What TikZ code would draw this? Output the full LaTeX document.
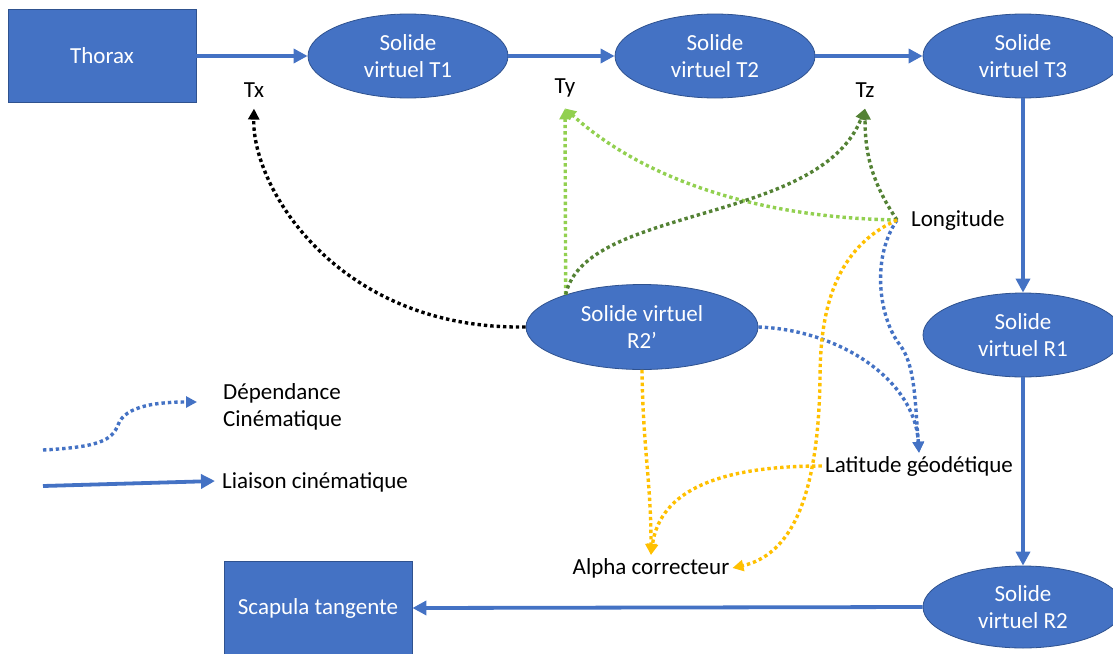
\documentclass[tikz,border=0pt]{standalone}
\usepackage{fontspec}
\setmainfont{Carlito}
\usepackage{tikz}
\usetikzlibrary{positioning, arrows.meta, shapes.geometric}
\definecolor{solidblue}{HTML}{4472C4}
\definecolor{solidborder}{HTML}{2F528F}
\definecolor{deplight}{HTML}{92D050}
\definecolor{depdark}{HTML}{548235}
\definecolor{depamber}{HTML}{FFC000}
\tikzset{
  every node/.style={font=\fontsize{23}{27}\selectfont},
  segment/.style={
    rectangle, draw=solidborder, fill=solidblue, text=white, line width=0.8pt,
    minimum width=188pt, minimum height=93pt, inner sep=2pt
  },
  virtuel/.style={
    ellipse, draw=solidborder, fill=solidblue, text=white, line width=0.8pt,
    minimum width=200pt, minimum height=84pt, align=center, inner sep=0pt
  },
  param/.style={text=black, inner sep=3pt},
  liaison/.style={-{Triangle[length=14pt, width=14pt]}, solidblue, line width=3.8pt},
  dependance/.style={
    -{Triangle[length=11pt, width=11pt]}, line width=3.4pt,
    dash pattern=on 3.4pt off 3pt
  }
}

\begin{document}
\begin{tikzpicture}[x=1pt, y=-1pt]
\useasboundingbox (0,0) rectangle (1113,653);

% Chaine des solides
\node[segment] (thorax) at (102,56) {Thorax};
\node[virtuel] (t1) at (408,56) {Solide\\virtuel T1};
\node[virtuel] (t2) at (715,56) {Solide\\virtuel T2};
\node[virtuel] (t3) at (1023,56) {Solide\\virtuel T3};
\node[virtuel] (r1) at (1023,335) {Solide\\virtuel R1};
\node[virtuel, minimum height=82pt] (r2) at (1023,607) {Solide\\virtuel R2};
\node[segment] (scapula) at (318,608) {Scapula tangente};
\node[virtuel, minimum width=232pt, minimum height=85pt] (r2p) at (642,327) {Solide virtuel\\R2’};

% Parametres
\node[param] (tx) at (254,90) {Tx};
\node[param] (ty) at (565,88) {Ty};
\node[param] (tz) at (865,90) {Tz};
\node[param, anchor=west] (lon) at (908,220) {Longitude};
\coordinate (lonpt) at (897,220);
\node[param] (lat) at (919,466) {Latitude géodétique};
\node[param] (alpha) at (651,568) {Alpha correcteur};

% Liaisons cinematiques
\draw[liaison] (thorax.east) -- (t1.west);
\draw[liaison] (t1.east) -- (t2.west);
\draw[liaison] (t2.east) -- (t3.west);
\draw[liaison] (t3.south) -- (r1.north);
\draw[liaison] (r1.south) -- (r2.north);
\draw[liaison] (r2.west) -- (scapula.east);

% Dependances cinematiques
\draw[dependance, black] (r2p.west) .. controls (340,330) and (252,190) .. ([yshift=-8pt]tx.south);
\draw[dependance, deplight] (r2p.157) -- ([yshift=-8pt]ty.south);
\draw[dependance, deplight] (lonpt) .. controls (770,218) and (650,185) .. ([yshift=-8pt]ty.south);
\draw[dependance, depdark] (r2p.157) .. controls (585,205) and (820,225) .. ([yshift=-8pt]tz.south);
\draw[dependance, depdark] (lonpt) .. controls (870,180) and (865,150) .. ([yshift=-8pt]tz.south);
\draw[dependance, solidblue] (r2p.east) .. controls (840,330) and (915,380) .. (lat.north);
\draw[dependance, solidblue] (lonpt) .. controls (870,260) and (880,320) .. (900,345)
  .. controls (915,365) and (915,400) .. (lat.north);
\draw[dependance, depamber] (r2p.south) .. controls (643,450) and (651,480) .. (alpha.north);
\draw[dependance, depamber] (lat.west) .. controls (720,466) and (660,490) .. (alpha.north);
\draw[dependance, depamber] (lonpt) .. controls (830,250) and (820,320) .. (820,380)
  .. controls (818,500) and (790,555) .. (alpha.east);

% Legende
\coordinate (depa) at (43,450);
\coordinate (depb) at (197,402);
\coordinate (liaa) at (43,486);
\coordinate (liab) at (215,481);
\draw[dependance, solidblue] (depa) .. controls (100,447) and (112,440) .. (118,425)
  .. controls (125,405) and (160,402) .. (depb);
\draw[liaison] (liaa) -- (liab);
\node[param, anchor=west, align=left] (deplabel) at (220,407) {Dépendance\\Cinématique};
\node[param, anchor=west] (lialabel) at (219,482) {Liaison cinématique};
\end{tikzpicture}
\end{document}
